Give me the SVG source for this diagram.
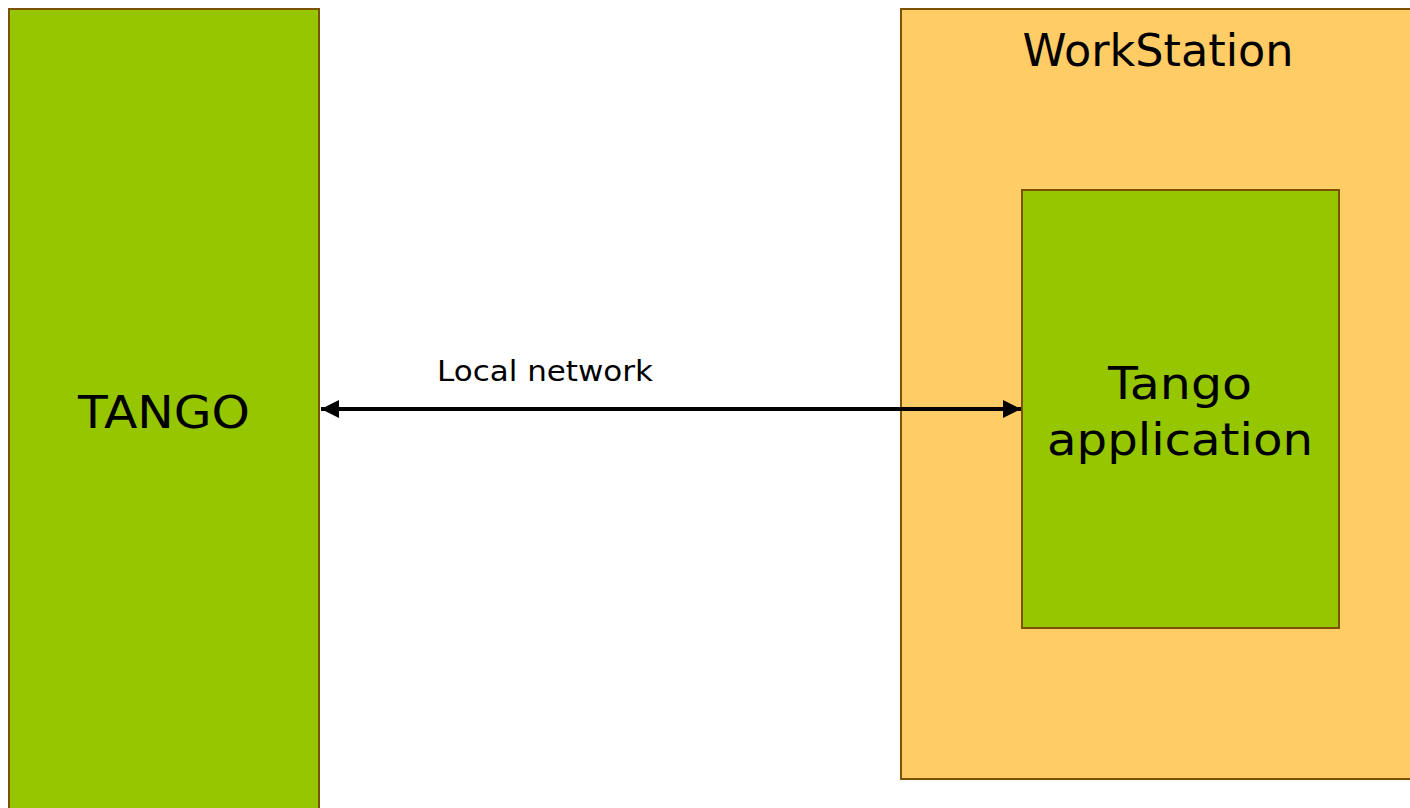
<svg xmlns="http://www.w3.org/2000/svg" width="1410" height="808" viewBox="0 0 1410 808">
<defs>
<style>
.box{stroke:#7a5200;stroke-width:2}
.green{fill:#95c600}
.orange{fill:#ffcc66}
.t{font-family:"DejaVu Sans",sans-serif;fill:#000;text-anchor:middle}
</style>
<marker id="ah" viewBox="0 0 10 10" refX="10" refY="5" markerWidth="4.5" markerHeight="4.5" orient="auto-start-reverse" markerUnits="strokeWidth">
<path d="M0,0 L10,5 L0,10 z" fill="#000"/>
</marker>
</defs>
<rect width="1410" height="808" fill="#fff"/>
<g id="tango">
<rect class="box green" x="9" y="9" width="310" height="810"/>
<text class="t" x="164" y="428" font-size="44" textLength="172" lengthAdjust="spacingAndGlyphs">TANGO</text>
</g>
<g id="workstation">
<rect class="box orange" x="901" y="9" width="520" height="770"/>
<text class="t" x="1158" y="66" font-size="44" textLength="271" lengthAdjust="spacingAndGlyphs">WorkStation</text>
</g>
<g id="tango-app">
<rect class="box green" x="1022" y="190" width="317" height="438"/>
<text class="t" x="1180" y="399" font-size="44" textLength="144" lengthAdjust="spacingAndGlyphs">Tango</text>
<text class="t" x="1180" y="455" font-size="44" textLength="266" lengthAdjust="spacingAndGlyphs">application</text>
</g>
<g id="connectors">
<line x1="321" y1="409" x2="1021" y2="409" stroke="#000" stroke-width="4" marker-start="url(#ah)" marker-end="url(#ah)"/>
<text class="t" x="545" y="381" font-size="28" textLength="216" lengthAdjust="spacingAndGlyphs">Local network</text>
</g>
</svg>
